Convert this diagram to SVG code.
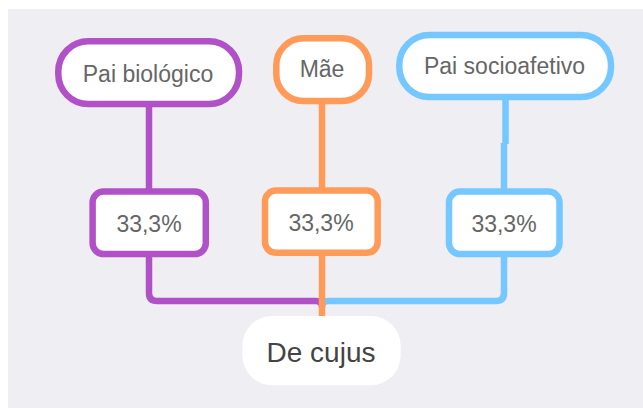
<svg xmlns="http://www.w3.org/2000/svg" width="643" height="408" viewBox="0 0 643 408">
<style>
.box{fill:#fff;stroke-width:6.5}
.p{stroke:#B051C8}
.o{stroke:#FF9A58}
.b{stroke:#74C8FF}
.lbl{font-family:"Liberation Sans",Arial,sans-serif;font-size:23px;fill:#666;text-anchor:middle}
.ln{fill:none;stroke-width:6.5;stroke-linejoin:round}
</style>
<rect x="0" y="0" width="643" height="408" fill="#fff"/>
<rect x="8" y="9" width="635" height="399" fill="#EFEEF3"/>
<g id="connectors">
<path class="ln p" d="M149,107 V192"/>
<path class="ln o" d="M322,104 V190"/>
<path class="ln b" d="M505.5,100 V144 M504,143 V191"/>
<path class="ln p" d="M149,256 V293 Q149,301 157,301 H316 Q322,301 322,307"/>
<path class="ln b" d="M504,256 V293 Q504,301 496,301 H328 Q322,301 322,307"/>
<path class="ln o" d="M322,255 V318"/>
</g>
<g id="pai-biologico">
<rect class="box p" x="58.3" y="41.3" width="180.7" height="62.7" rx="30"/>
<text class="lbl" x="148" y="82">Pai biológico</text>
</g>
<g id="mae">
<rect class="box o" x="276.3" y="38.3" width="92.7" height="62.7" rx="27"/>
<text class="lbl" x="322" y="77">Mãe</text>
</g>
<g id="pai-socioafetivo">
<rect class="box b" x="399.3" y="35" width="211.7" height="62" rx="30"/>
<text class="lbl" x="504.5" y="74">Pai socioafetivo</text>
</g>
<g id="pct-pai-biologico">
<rect class="box p" x="92.6" y="191.6" width="113.2" height="62.5" rx="11"/>
<text class="lbl" x="149" y="231.5">33,3%</text>
</g>
<g id="pct-mae">
<rect class="box o" x="265" y="190.6" width="112.7" height="62.2" rx="11"/>
<text class="lbl" x="321" y="230.5">33,3%</text>
</g>
<g id="pct-pai-socioafetivo">
<rect class="box b" x="449" y="191.6" width="110.5" height="62.5" rx="11"/>
<text class="lbl" x="504" y="231.5">33,3%</text>
</g>
<g id="de-cujus">
<rect x="242.3" y="316" width="158.4" height="69.3" rx="30" fill="#fff"/>
<text x="321" y="361.5" font-family="Liberation Sans, Arial, sans-serif" font-size="28" fill="#444" text-anchor="middle">De cujus</text>
</g>
</svg>
